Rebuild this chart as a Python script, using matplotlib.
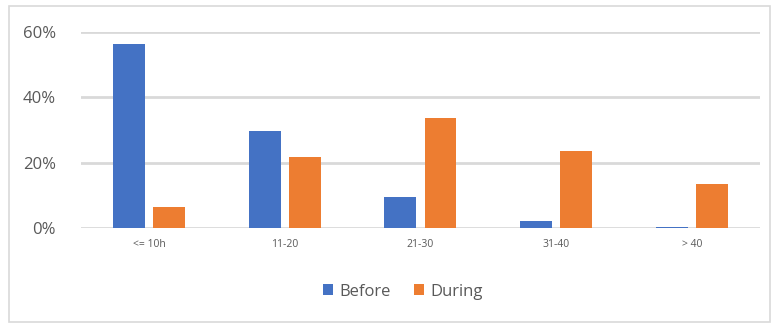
import matplotlib
matplotlib.use("Agg")
import matplotlib.pyplot as plt
import numpy as np
from matplotlib.patches import Rectangle
from matplotlib.ticker import FuncFormatter

categories = ["<= 10h", "11-20", "21-30", "31-40", "> 40"]
before = [0.563, 0.297, 0.095, 0.021, 0.004]
during = [0.064, 0.218, 0.336, 0.235, 0.135]

plt.rcParams['font.family'] = ['Open Sans', 'DejaVu Sans']

fig = plt.figure(figsize=(7.75, 3.24), dpi=100)
fig.patches.append(Rectangle((0.012, 0.005), 0.982, 0.975, transform=fig.transFigure,
                             fill=False, edgecolor="#D9D9D9", linewidth=1.2))
ax = fig.add_axes([0.1045, 0.296, 0.876, 0.605])

x = np.arange(len(categories))
w = 0.235
gap = 0.06
ax.bar(x - (w + gap) / 2, before, w, color="#4472C4", label="Before", zorder=3)
ax.bar(x + (w + gap) / 2, during, w, color="#ED7D31", label="During", zorder=3)

ax.set_xlim(-0.5, len(categories) - 0.5)
ax.set_ylim(0, 0.6)
ax.set_yticks([0, 0.2, 0.4, 0.6])
ax.yaxis.set_major_formatter(FuncFormatter(lambda v, p: f"{v*100:.0f}%"))
ax.grid(axis="y", color="#D9D9D9", linewidth=2, zorder=0)
ax.set_xticks(x)
ax.set_xticklabels(categories, fontsize=7.5, color="#595959")
ax.tick_params(axis="y", labelsize=12, colors="#595959", length=0, pad=18)
ax.tick_params(axis="x", length=0, pad=8)
for s in ax.spines.values():
    s.set_visible(False)

fig.legend(loc="center", bbox_to_anchor=(0.52, 0.1), ncol=2, frameon=False,
           fontsize=12, handlelength=0.6, handleheight=0.6, handletextpad=0.4,
           columnspacing=1.4, labelcolor="#595959")

fig.savefig("out.png", dpi=100)
